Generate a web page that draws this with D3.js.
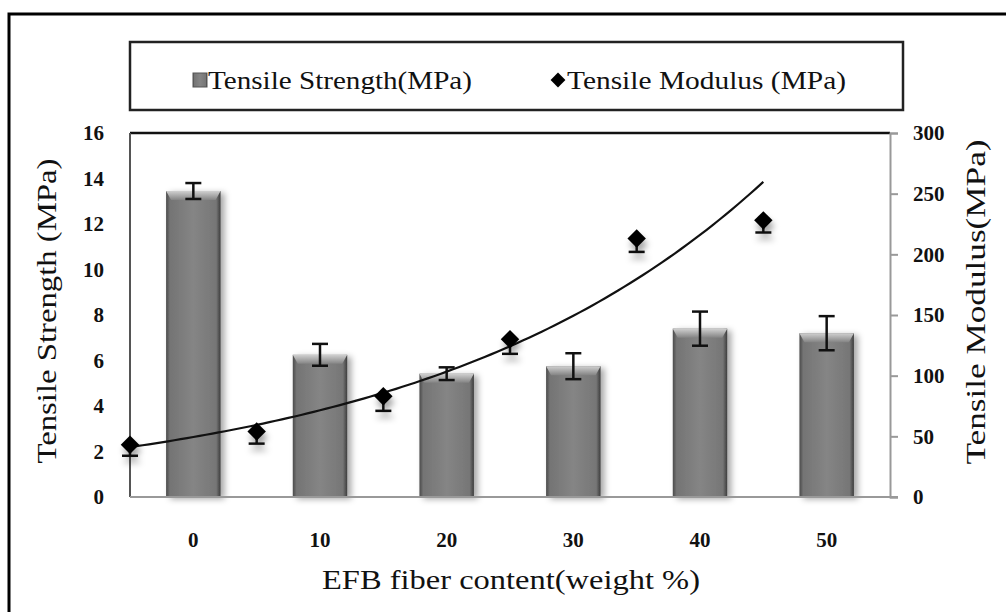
<!DOCTYPE html>
<html>
<head>
<meta charset="utf-8">
<title>Tensile strength and modulus vs EFB fiber content</title>
<script src="https://d3js.org/d3.v7.min.js"></script>
<style>
  body { margin: 0; background: #fff; }
  svg text { font-family: "Liberation Serif", Tinos, "Times New Roman", Times, serif; fill: #111; }
</style>
</head>
<body>
<div id="chart"></div>
<script>

// data
var categories = ["0", "10", "20", "30", "40", "50"];
var strength = [13.45, 6.25, 5.42, 5.75, 7.4, 7.2];      // MPa, left axis
var strengthErr = [0.35, 0.48, 0.28, 0.57, 0.75, 0.75];
var modX = [1, 2, 3, 4, 5, 6];                            // scatter sits between the bars
var modulus = [43, 54, 83, 130, 213, 228];               // MPa, right axis
var modulusErr = [9, 10, 12, 12, 11, 10];                // minus side only
var leftTicks = [0, 2, 4, 6, 8, 10, 12, 14, 16];
var rightTicks = [0, 50, 100, 150, 200, 250, 300];

var width = 1006, height = 612;
var plot = { left: 130, right: 890, top: 133, bottom: 497 };

var svg = d3.select("#chart").append("svg")
  .attr("width", width)
  .attr("height", height);

var defs = svg.append("defs");

// bar body: darker edges, mid gray centre
var barGrad = defs.append("linearGradient").attr("id", "barGrad")
  .attr("x1", "0").attr("x2", "1").attr("y1", "0").attr("y2", "0");
[["0%", "#4a4a4a"], ["7%", "#747474"], ["50%", "#858585"], ["92%", "#767676"], ["100%", "#3c3c3c"]]
  .forEach(function(s) { barGrad.append("stop").attr("offset", s[0]).attr("stop-color", s[1]); });

var bevelGrad = defs.append("linearGradient").attr("id", "bevelGrad")
  .attr("x1", "0").attr("x2", "0").attr("y1", "0").attr("y2", "1");
bevelGrad.append("stop").attr("offset", "0%").attr("stop-color", "#d0d0d0");
bevelGrad.append("stop").attr("offset", "100%").attr("stop-color", "#848484");

var shadow = defs.append("filter").attr("id", "shadow")
  .attr("x", "-30%").attr("y", "-30%").attr("width", "170%").attr("height", "170%");
shadow.append("feDropShadow").attr("dx", 4).attr("dy", 2)
  .attr("stdDeviation", 3).attr("flood-color", "#000").attr("flood-opacity", 0.35);

var dotShadow = defs.append("filter").attr("id", "dotShadow")
  .attr("x", "-60%").attr("y", "-60%").attr("width", "220%").attr("height", "260%");
dotShadow.append("feDropShadow").attr("dx", 2).attr("dy", 6)
  .attr("stdDeviation", 3).attr("flood-color", "#000").attr("flood-opacity", 0.35);

// outer frame (runs off the right and bottom of the picture)
svg.append("rect")
  .attr("x", 9).attr("y", 14)
  .attr("width", width + 20).attr("height", height + 20)
  .attr("fill", "none").attr("stroke", "#000").attr("stroke-width", 3);

// scales
var x = d3.scaleBand()
  .domain(categories)
  .range([plot.left, plot.right])
  .paddingInner(0.57)
  .paddingOuter(0.285);

var xm = d3.scaleLinear().domain([1, 7]).range([plot.left, plot.right]);
var yL = d3.scaleLinear().domain([0, 16]).range([plot.bottom, plot.top]);
var yR = d3.scaleLinear().domain([0, 300]).range([plot.bottom, plot.top]);

// plot area border
svg.append("line")
  .attr("x1", plot.left).attr("x2", plot.right)
  .attr("y1", plot.top).attr("y2", plot.top)
  .attr("stroke", "#111").attr("stroke-width", 2.5);
svg.append("line")
  .attr("x1", plot.left).attr("x2", plot.left)
  .attr("y1", plot.top).attr("y2", plot.bottom)
  .attr("stroke", "#555").attr("stroke-width", 2);

// bars
var bars = svg.append("g").selectAll("g")
  .data(categories)
  .enter().append("g");

bars.append("rect")
  .attr("x", function(d) { return x(d); })
  .attr("y", function(d, i) { return yL(strength[i]); })
  .attr("width", x.bandwidth())
  .attr("height", function(d, i) { return plot.bottom - yL(strength[i]); })
  .attr("fill", "url(#barGrad)")
  .attr("filter", "url(#shadow)");

var bev = 9;
bars.append("path")
  .attr("d", function(d, i) {
    var x0 = x(d), x1 = x(d) + x.bandwidth(), y0 = yL(strength[i]);
    return "M" + x0 + "," + y0 + "L" + x1 + "," + y0 +
      "L" + (x1 - 5) + "," + (y0 + bev) + "L" + (x0 + 5) + "," + (y0 + bev) + "Z";
  })
  .attr("fill", "url(#bevelGrad)");

// strength error bars
var capW = 8;
bars.each(function(d, i) {
  var g = d3.select(this);
  var cx = x(d) + x.bandwidth() / 2;
  var hi = yL(strength[i] + strengthErr[i]), lo = yL(strength[i] - strengthErr[i]);
  g.append("line").attr("x1", cx).attr("x2", cx).attr("y1", hi).attr("y2", lo);
  g.append("line").attr("x1", cx - capW).attr("x2", cx + capW).attr("y1", hi).attr("y2", hi);
  g.append("line").attr("x1", cx - capW).attr("x2", cx + capW).attr("y1", lo).attr("y2", lo);
  g.selectAll("line").attr("stroke", "#111").attr("stroke-width", 2.5);
});

// bottom axis line and right axis
svg.append("line")
  .attr("x1", plot.left).attr("x2", plot.right + 8)
  .attr("y1", plot.bottom).attr("y2", plot.bottom)
  .attr("stroke", "#999").attr("stroke-width", 2);

function styleTicks(g) {
  g.attr("font-family", null);
  g.selectAll("text")
    .attr("fill", "#111")
    .style("font-size", "21px")
    .style("font-weight", "bold");
}

var rightAxis = svg.append("g")
  .attr("transform", "translate(" + plot.right + ",0)")
  .call(d3.axisRight(yR).tickValues(rightTicks).tickSize(8).tickPadding(15));
rightAxis.select(".domain").attr("stroke", "#999").attr("stroke-width", 2);
rightAxis.selectAll(".tick line").attr("stroke", "#999").attr("stroke-width", 2);
styleTicks(rightAxis);

var leftAxis = svg.append("g")
  .attr("transform", "translate(" + plot.left + ",0)")
  .call(d3.axisLeft(yL).tickValues(leftTicks).tickSize(0).tickPadding(26));
leftAxis.select(".domain").remove();
styleTicks(leftAxis);

var bottomAxis = svg.append("g")
  .attr("transform", "translate(0," + plot.bottom + ")")
  .call(d3.axisBottom(x).tickSize(0).tickPadding(35));
bottomAxis.select(".domain").remove();
styleTicks(bottomAxis);

// exponential trendline, least squares on ln(modulus)
var lnY = modulus.map(function(v) { return Math.log(v); });
var mx = d3.mean(modX), my = d3.mean(lnY);
var b = d3.sum(modX, function(v, i) { return (v - mx) * (lnY[i] - my); }) /
        d3.sum(modX, function(v) { return (v - mx) * (v - mx); });
var a = Math.exp(my - b * mx);
var trend = d3.range(modX[0], modX[modX.length - 1] + 0.001, 0.05)
  .map(function(t) { return [t, a * Math.exp(b * t)]; });

svg.append("path")
  .datum(trend)
  .attr("fill", "none")
  .attr("stroke", "#111")
  .attr("stroke-width", 2.2)
  .attr("d", d3.line()
    .x(function(d) { return xm(d[0]); })
    .y(function(d) { return yR(d[1]); }));

// modulus points, error bars drawn on the minus side only
var pts = svg.append("g").selectAll("g")
  .data(modX)
  .enter().append("g")
  .attr("filter", "url(#dotShadow)");

pts.each(function(d, i) {
  var g = d3.select(this);
  var cx = xm(d), cy = yR(modulus[i]);
  var lo = yR(modulus[i] - modulusErr[i]);
  g.append("line").attr("x1", cx).attr("x2", cx).attr("y1", cy).attr("y2", lo);
  g.append("line").attr("x1", cx - capW).attr("x2", cx + capW).attr("y1", lo).attr("y2", lo);
  g.selectAll("line").attr("stroke", "#111").attr("stroke-width", 2.5);
  g.append("path")
    .attr("d", d3.symbol().type(d3.symbolSquare).size(170)())
    .attr("transform", "translate(" + cx + "," + cy + ") rotate(45)")
    .attr("fill", "#000");
});

// axis titles
svg.append("text")
  .attr("transform", "translate(56,311) rotate(-90)")
  .attr("text-anchor", "middle")
  .style("font-size", "27px")
  .attr("textLength", 305).attr("lengthAdjust", "spacingAndGlyphs")
  .text("Tensile Strength (MPa)");

svg.append("text")
  .attr("transform", "translate(985,302) rotate(-90)")
  .attr("text-anchor", "middle")
  .style("font-size", "27px")
  .attr("textLength", 325).attr("lengthAdjust", "spacingAndGlyphs")
  .text("Tensile Modulus(MPa)");

svg.append("text")
  .attr("x", 511).attr("y", 589)
  .attr("text-anchor", "middle")
  .style("font-size", "27px")
  .attr("textLength", 378).attr("lengthAdjust", "spacingAndGlyphs")
  .text("EFB fiber content(weight %)");

// legend
var legend = svg.append("g");
legend.append("rect")
  .attr("x", 130).attr("y", 42).attr("width", 773).attr("height", 68)
  .attr("fill", "#fff").attr("stroke", "#222").attr("stroke-width", 2.5);

legend.append("rect")
  .attr("x", 193).attr("y", 73).attr("width", 14).attr("height", 14)
  .attr("fill", "url(#barGrad)").attr("stroke", "#555").attr("stroke-width", 1);
legend.append("text")
  .attr("x", 208).attr("y", 89)
  .style("font-size", "26px")
  .attr("textLength", 264).attr("lengthAdjust", "spacingAndGlyphs")
  .text("Tensile Strength(MPa)");

legend.append("path")
  .attr("d", d3.symbol().type(d3.symbolSquare).size(110)())
  .attr("transform", "translate(558,80) rotate(45)")
  .attr("fill", "#000");
legend.append("text")
  .attr("x", 567).attr("y", 89)
  .style("font-size", "26px")
  .attr("textLength", 279).attr("lengthAdjust", "spacingAndGlyphs")
  .text("Tensile Modulus (MPa)");

</script>
</body>
</html>
